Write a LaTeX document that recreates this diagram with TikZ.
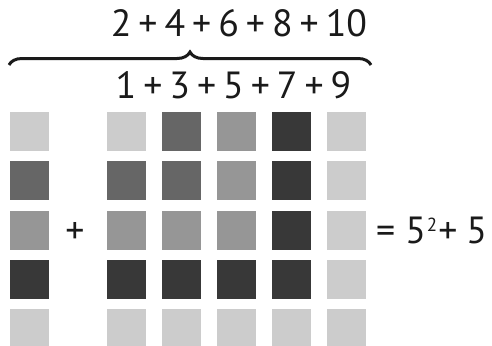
\documentclass[tikz,border=0pt]{standalone}
\usepackage{fontspec}
\setmainfont{PT Sans}
\usepackage{tikz}
\usetikzlibrary{decorations.pathreplacing}
\definecolor{tilelight}{HTML}{CCCCCC}
\definecolor{tilemid}{HTML}{969696}
\definecolor{tilemed}{HTML}{666666}
\definecolor{tiledark}{HTML}{383838}
\definecolor{inkblack}{HTML}{1A1A1A}
\newcommand{\sumfont}{\fontsize{38}{38}\selectfont\spaceskip=7bp plus 0bp minus 0bp\relax}
\tikzset{
  tile/.style={minimum size=39bp,inner sep=0pt,outer sep=0pt,fill=#1},
  sumtext/.style={inner sep=0pt,text=inkblack,font=\sumfont}
}

\begin{document}
\begin{tikzpicture}[x=1bp,y=-1bp]
    \useasboundingbox (0,0) rectangle (492,345);
    % left column of tiles
    \foreach \c [count=\r from 0] in {tilelight,tilemed,tilemid,tiledark,tilelight}
      \node[tile=\c] (L-\r) at (29.5,131.5+49.25*\r) {};
    % the 5 by 5 block
    \foreach \col/\cols [count=\k from 0] in {
        126.5/{tilelight,tilemed,tilemid,tiledark,tilelight},
        181.5/{tilemed,tilemed,tilemid,tiledark,tilelight},
        236.5/{tilemid,tilemid,tilemid,tiledark,tilelight},
        291.5/{tiledark,tiledark,tiledark,tiledark,tilelight},
        346.5/{tilelight,tilelight,tilelight,tilelight,tilelight}}
      \foreach \c [count=\r from 0] in \cols
        \node[tile=\c] (B-\k-\r) at (\col,131.5+49.25*\r) {};
    \node[sumtext] (plus) at (75,233) {+};
    \node[sumtext,anchor=west] (eqn) at (376,230)
      {=\hspace{10bp}5\hspace{1bp}\raisebox{12bp}{\fontsize{19}{19}\selectfont 2}\hspace{1bp}+\hspace{9bp}5};
    \node[sumtext] (evens) at (239,23.5) {2 + 4 + 6 + 8 + 10};
    \node[sumtext] (odds) at (233.5,85) {1 + 3 + 5 + 7 + 9};
    \draw[line width=3bp,inkblack,decorate,decoration={brace,amplitude=13bp}]
      (9,65) -- (371,65);
  \end{tikzpicture}
\end{document}
